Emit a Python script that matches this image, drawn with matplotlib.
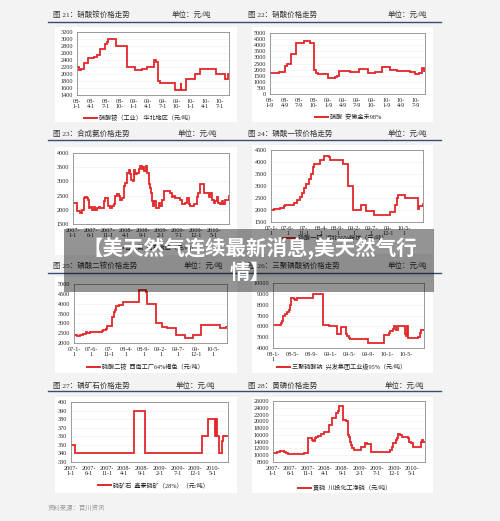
import matplotlib
matplotlib.use("Agg")
import matplotlib.pyplot as plt
from matplotlib.patches import Rectangle
from matplotlib.lines import Line2D

plt.rcParams['font.family'] = ['Liberation Serif', 'Noto Sans CJK SC', 'DejaVu Sans']

W, H = 500, 521

# ---------------- data (months since first tick, price) ----------------
x21 = [0, 0.4, 0.8, 1.5, 2.4, 3.6, 4.3, 4.9, 5.9, 6.3, 6.6, 8.2, 10.6, 12.2, 13.7, 14.8, 16.3, 16.7, 17.0, 17.4, 20.7, 21.8, 21.9, 23.0, 24.8, 25.8, 29.2, 31.1, 31.8, 32.0]
y21 = [2200, 2100, 2150, 2300, 2450, 2480, 2550, 2700, 2850, 2900, 3000, 2800, 2200, 2100, 2150, 2200, 2400, 2350, 1800, 1750, 1550, 1750, 1550, 1850, 2000, 2150, 2000, 1850, 2000, 2000]
ticks21 = ["08-\n1-1", "08-\n4-1", "08-\n7-1", "08-\n10-", "09-\n1-1", "09-\n4-1", "09-\n7-1", "09-\n10-", "10-\n1-1", "10-\n4-1", "10-\n7-1"]

x22 = [0, 1.9, 3.1, 3.6, 4.3, 5.4, 7.0, 8.3, 9.1, 9.5, 10.0, 11.9, 13.4, 13.9, 14.3, 15.5, 16.0, 16.5, 18.4, 20.3, 21.7, 23.1, 24.8, 25.6, 26.2, 28.9, 29.9, 30.8, 31.3, 31.8, 32.0]
y22 = [1750, 1800, 2300, 2500, 3300, 4150, 4350, 4150, 1950, 1750, 1600, 1350, 1400, 1450, 1900, 1850, 1900, 1800, 2050, 1750, 1800, 2250, 2000, 1950, 1850, 1800, 1600, 1700, 2100, 1900, 1900]
ticks22 = ["08-\n1-9", "08-\n4-9", "08-\n7-9", "08-\n10-", "09-\n1-9", "09-\n4-9", "09-\n7-9", "09-\n10-", "10-\n1-9", "10-\n4-9", "10-\n7-9"]

x23 = [0, 0.7, 1.1, 2.1, 2.6, 3.0, 3.5, 4.0, 4.2, 4.5, 4.9, 5.4, 5.9, 6.4, 6.8, 7.3, 7.8, 8.3, 8.7, 9.2, 9.7, 10.1, 10.6, 11.1, 11.6, 12.0, 12.5, 13.0, 13.5, 13.9, 14.4, 14.9, 15.4, 15.8, 16.1, 16.5, 17.0, 17.3, 17.7, 18.2, 18.7, 19.2, 19.6, 19.9, 20.3, 20.9, 21.2, 21.7, 22.0, 22.2, 22.5, 22.8, 23.1, 23.5, 23.9, 24.4, 24.8, 25.3, 25.8, 26.7, 27.7, 28.2, 28.6, 29.1, 30.1, 30.5, 31.0, 31.9, 32.4, 32.9, 33.4, 34.3, 34.8, 35.3, 35.7, 36.2, 36.7, 37.2, 38.1, 38.6, 39.1, 39.5, 40.0, 40.5, 41.0, 41.4, 41.9, 42.4, 42.8, 43.3, 43.8, 44.3]
y23 = [2250, 2250, 1950, 1900, 2000, 2400, 2450, 2400, 2350, 2050, 2100, 2000, 2100, 2000, 2050, 2100, 2050, 2050, 2300, 2400, 2400, 2150, 2050, 2150, 2200, 2500, 2550, 2500, 2350, 2400, 2850, 2950, 3300, 3400, 3250, 3050, 3000, 3400, 3250, 3300, 3450, 3550, 3450, 3500, 3350, 3550, 3300, 2900, 2750, 2600, 2300, 2150, 2300, 2050, 2050, 2250, 2150, 2350, 2650, 2650, 2600, 2450, 2500, 2400, 2400, 2350, 2200, 2250, 2400, 2200, 2150, 2200, 2200, 2450, 2600, 2900, 2900, 2600, 2600, 2450, 2600, 2350, 2250, 2300, 2450, 2250, 2200, 2300, 2200, 2350, 2350, 2500]
ticks23 = ["2007-\n1-1", "2007-\n6-1", "2007-\n11-1", "2008-\n4-1", "2008-\n9-1", "2009-\n2-1", "2009-\n7-1", "2009-\n12-1", "2010-\n5-1"]

x24 = [0, 0.8, 2.8, 3.8, 4.3, 7.0, 7.8, 8.6, 9.3, 10.0, 10.6, 11.3, 12.0, 12.6, 12.8, 14.6, 15.8, 17.3, 17.8, 21.5, 23.1, 24.6, 27.0, 28.6, 30.8, 35.8, 37.3, 37.8, 38.0, 40.3, 44.0, 44.3, 45.6]
y24 = [1980, 2050, 2100, 2150, 2200, 2300, 2400, 2550, 2700, 2900, 3100, 3300, 3500, 3800, 3900, 4100, 4250, 4200, 4100, 3900, 3000, 2000, 2200, 1950, 1800, 1900, 2200, 2500, 2620, 2500, 2050, 2150, 2250]
ticks24 = ["07-1-\n1", "07-6-\n1", "07-\n11-1", "08-4-\n1", "08-9-\n1", "09-2-\n1", "09-7-\n1", "09-\n12-1", "10-5-\n1"]

x25 = [0, 1.0, 1.7, 2.7, 3.4, 3.8, 4.6, 8.1, 8.4, 9.2, 9.6, 11.0, 11.5, 11.8, 12.0, 13.0, 14.1, 18.7, 20.8, 21.1, 23.6, 25.3, 26.8, 29.3, 31.8, 34.2, 36.4, 42.1, 43.8, 44.0]
y25 = [2400, 2350, 2400, 2450, 2550, 2500, 2550, 2600, 2650, 2700, 2850, 3300, 3600, 3700, 3900, 3950, 4100, 4700, 4600, 4000, 3000, 2800, 2750, 2400, 2250, 2400, 2900, 2750, 2800, 2800]
ticks25 = ["07-1-\n1", "07-6-\n1", "07-\n11-1", "08-4-\n1", "08-9-\n1", "09-2-\n1", "09-7-\n1", "09-\n12-1", "10-5-\n1"]

x26 = [0, 1.75, 1.9, 2.1, 2.6, 2.9, 3.3, 3.5, 3.8, 4.5, 4.7, 5.0, 8.4, 10.5, 11.7, 13.4, 14.3, 15.3, 15.5, 16.0, 16.2, 19.9, 23.4, 24.3, 24.6, 25.2, 25.5, 25.8, 26.2, 27.8, 28.0, 28.1, 28.3, 30.4, 30.8, 31.0, 31.7]
y26 = [6100, 6300, 6500, 7000, 7100, 7300, 7500, 8000, 8600, 8500, 8400, 8600, 9000, 6100, 6000, 5300, 5900, 5300, 5100, 4900, 4800, 4500, 5200, 5400, 5600, 5800, 6000, 5700, 6000, 5300, 5100, 6000, 4900, 5000, 5400, 5700, 5700]
ticks26 = ["08-1-\n1", "08-5-", "08-9-", "09-1-", "09-5-", "09-9-", "10-1-", "10-5-"]

x27 = [0, 1.2, 17.8, 20.8, 36.9, 38.6, 40.5, 40.8, 41.0, 41.6, 42.6, 42.9, 44.2]
y27 = [350, 340, 390, 340, 360, 380, 360, 380, 360, 340, 355, 360, 360]
ticks27 = ["2007-\n1-1", "2007-\n6-1", "2007-\n11-1", "2008-\n4-1", "2008-\n9-1", "2009-\n2-1", "2009-\n7-1", "2009-\n12-1", "2010-\n5-1"]

x28 = [0, 1.2, 1.9, 3.3, 3.8, 4.2, 9.0, 9.8, 10.1, 11.2, 11.5, 12.2, 12.5, 13.1, 13.8, 14.8, 15.3, 16.0, 17.0, 18.1, 18.6, 18.9, 20.3, 21.1, 21.5, 21.9, 22.2, 22.6, 22.9, 23.4, 25.3, 26.4, 27.2, 28.3, 33.6, 34.2, 34.7, 35.3, 35.7, 36.1, 36.6, 37.1, 39.0, 39.3, 39.7, 40.3, 42.6, 43.0, 43.3, 43.8]
y28 = [10800, 11000, 11200, 11000, 10700, 10500, 10600, 10800, 15000, 14500, 14200, 15000, 15400, 15800, 16300, 16800, 17000, 18900, 20900, 22500, 23000, 24600, 20500, 20000, 16000, 15500, 14000, 13000, 12000, 11500, 12500, 13500, 13300, 11000, 11500, 12500, 13500, 14500, 15200, 16200, 16000, 15500, 15000, 14000, 13500, 12400, 14000, 14500, 14000, 13800]
ticks28 = ["2007-\n1-1", "2007-\n6-1", "2007-\n11-1", "2008-\n4-1", "2008-\n9-1", "2009-\n2-1", "2009-\n7-1", "2009-\n12-1", "2010-\n5-1"]

titles = ["图 21：硝酸铵价格走势", "图 22：硝酸价格走势", "图 23：合成氨价格走势", "图 24：磷酸一铵价格走势",
          "图 25：磷酸二铵价格走势", "图 26：三聚磷酸钠价格走势", "图 27：磷矿石价格走势", "图 28：黄磷价格走势"]
legends = ["硝酸铵（工业） 华北地区（元/吨）", "硝酸  安徽金禾98%", "合成氨  山东地区（元/吨）", "磷酸一铵  湖北55%粉状（元/吨）",
           "磷酸二铵  西南工厂64%褐色（元/吨）", "三聚磷酸钠  兴发集团工业级95%（元/吨）", "磷矿石  鑫泰磷矿（28%）（元/吨）", "黄磷  川投化工净磷（元/吨）"]
unit = "单位：元/吨"
banner = "【美天然气连续最新消息,美天然气行\n情】"
source = "资料来源：百川资讯"

# ---------------- helpers ----------------
fig = plt.figure(figsize=(W / 100, H / 100), dpi=100, facecolor='#f3f3f3')

def fx(x):
    return x / W

def fy(y):
    return 1 - y / H

def box(x0, y0, x1, y1):
    fig.patches.append(Rectangle((fx(x0), fy(y1)), (x1 - x0) / W, (y1 - y0) / H,
                                 transform=fig.transFigure, facecolor='white', edgecolor='none', zorder=-5))

RED = '#e2282a'
TICKFS = 4.4

def panel(L, T, R, B, x, y, xmax, ylo, yhi, ystep, tickstep, labels, step=True):
    ax = fig.add_axes([fx(L), fy(B), (R - L) / W, (B - T) / H])
    ax.set_zorder(2)
    ax.set_facecolor('white')
    ax.plot(x, y, color=RED, lw=1.3, drawstyle='steps-post' if step else 'default', solid_joinstyle='miter')
    ax.set_xlim(0, xmax)
    ax.set_ylim(ylo, yhi)
    yt = list(range(ylo, yhi + 1, ystep))
    ax.set_yticks(yt)
    ax.set_yticklabels([str(v) for v in yt], fontsize=TICKFS, color='#222222')
    xt = [i * tickstep for i in range(len(labels))]
    ax.set_xticks(xt)
    ax.set_xticklabels(labels, fontsize=TICKFS, color='#222222', linespacing=1.05, va='top')
    ax.tick_params(length=0, pad=3)
    for s in ax.spines.values():
        s.set_color('#8a8a8a')
        s.set_linewidth(0.6)
    ax.grid(axis='y', color='#eeeeee', lw=0.4)
    ax.set_axisbelow(True)
    return ax

def header(y_text, y_line, left_title, right_title, lunit_x, runit_x):
    fig.text(fx(53), fy(y_text), left_title, fontsize=5.4, color='#333333', va='center', ha='left')
    fig.text(fx(lunit_x), fy(y_text), unit, fontsize=5.4, color='#333333', va='center', ha='left')
    fig.text(fx(248), fy(y_text), right_title, fontsize=5.4, color='#333333', va='center', ha='left')
    fig.text(fx(runit_x), fy(y_text), unit, fontsize=5.4, color='#333333', va='center', ha='left')
    fig.add_artist(Line2D([fx(48), fx(441)], [fy(y_line), fy(y_line)], color='#34506e', lw=1.0,
                          transform=fig.transFigure))

def legend(x0, y, text):
    fig.add_artist(Line2D([fx(x0), fx(x0 + 13)], [fy(y), fy(y)], color=RED, lw=1.4, transform=fig.transFigure))
    fig.text(fx(x0 + 15), fy(y), text, fontsize=4.4, color='#222222', va='center', ha='left')

# ---------------- white chart boxes ----------------
box(55, 27, 237, 122)
box(252, 27, 433, 122)
box(55, 147, 237, 255)
box(252, 145, 433, 254)
box(55, 277, 237, 373)
box(252, 277, 433, 373)
box(55, 397, 237, 493)
box(252, 397, 433, 493)

# ---------------- headers ----------------
header(14, 21.7, titles[0], titles[1], 172, 388)
header(133, 140, titles[2], titles[3], 178, 388)
header(265, 272.5, titles[4], titles[5], 184, 388)
header(385, 390.7, titles[6], titles[7], 176, 385)

# ---------------- panels ----------------
panel(77, 32, 229, 95, x21, y21, 32.0, 1400, 3200, 200, 3, ticks21)
panel(270, 33, 425, 94, x22, y22, 32.0, 0, 5000, 500, 3, ticks22)
panel(73, 153, 229, 224, x23, y23, 44.4, 1500, 4000, 500, 5, ticks23)
panel(271, 150, 423, 222, x24, y24, 45.6, 1500, 4500, 500, 5, ticks24)
panel(74, 284, 227, 343, x25, y25, 44.0, 2000, 5000, 500, 5, ticks25)
panel(273, 283, 424, 348, x26, y26, 31.7, 4000, 10000, 1000, 4, ticks26)
panel(71, 402, 228, 462, x27, y27, 44.2, 330, 400, 10, 5, ticks27)
panel(273, 401, 425, 462, x28, y28, 43.8, 8000, 26000, 2000, 5, ticks28)

# ---------------- legends ----------------
legend(84, 118, legends[0])
legend(315, 117, legends[1])
legend(110, 248, legends[2])
legend(283, 238, legends[3])
legend(87, 367, legends[4])
legend(277, 367, legends[5])
legend(98, 485, legends[6])
legend(298, 488, legends[7])

fig.text(fx(48), fy(508), source, fontsize=4.6, color='#999999', va='center', ha='left', style='italic')

# ---------------- banner ----------------
banner_rect = Rectangle((fx(64), fy(292)), (434 - 64) / W, (292 - 229) / H,
                        transform=fig.transFigure, facecolor='black', alpha=0.42,
                        edgecolor='none', zorder=10)
fig.add_artist(banner_rect)
fig.text(0.5, fy(260), banner, fontsize=14.8, color='white', fontweight='bold',
         ha='center', va='center', linespacing=1.12, zorder=11,
         family=['Noto Sans CJK SC', 'DejaVu Sans'])

fig.savefig('out.png', dpi=100, facecolor=fig.get_facecolor())
